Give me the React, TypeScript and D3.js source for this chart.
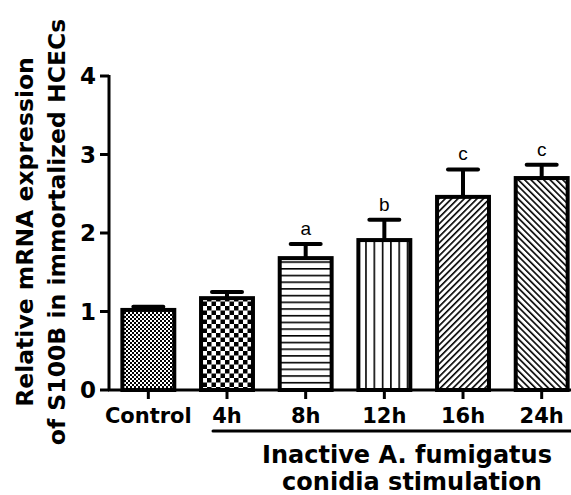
import React from "react";
import * as d3 from "d3";

const categories = ["Control", "4h", "8h", "12h", "16h", "24h"];
const means = [1.02, 1.17, 1.68, 1.91, 2.46, 2.70];
const errors = [0.04, 0.08, 0.18, 0.26, 0.35, 0.17];
const sigLabels = ["", "", "a", "b", "c", "c"];
const patterns = ["fineCheck", "bigCheck", "hLines", "vLines", "diagUp", "diagDown"];
const yTicks = [0, 1, 2, 3, 4];

const W = 571;
const H = 495;
const FONT = "'DejaVu Sans', Verdana, sans-serif";

export default function App() {
  const x = d3
    .scaleBand<string>()
    .domain(categories)
    .range([109, 109 + 78.67 * 6])
    .paddingInner(0.34)
    .paddingOuter(0.17);
  const y = d3.scaleLinear().domain([0, 4]).range([390, 76]);
  const bw = x.bandwidth();

  return (
    <svg
      width={W}
      height={H}
      style={{ position: "absolute", left: 0, top: 0, background: "#fff" }}
      fontFamily={FONT}
    >
      <defs>
        <pattern id="fineCheck" width={4} height={4} patternUnits="userSpaceOnUse">
          <rect width={4} height={4} fill="#fff" />
          <rect x={0} y={0} width={2} height={2} fill="#000" />
          <rect x={2} y={2} width={2} height={2} fill="#000" />
        </pattern>
        <pattern id="bigCheck" width={9} height={9} patternUnits="userSpaceOnUse">
          <rect width={9} height={9} fill="#fff" />
          <rect x={0} y={0} width={4.5} height={4.5} fill="#000" />
          <rect x={4.5} y={4.5} width={4.5} height={4.5} fill="#000" />
        </pattern>
        <pattern id="hLines" width={10} height={6.7} patternUnits="userSpaceOnUse">
          <rect width={10} height={6.7} fill="#fff" />
          <rect x={0} y={0} width={10} height={1.6} fill="#000" />
        </pattern>
        <pattern id="vLines" width={8.3} height={10} patternUnits="userSpaceOnUse">
          <rect width={8.3} height={10} fill="#fff" />
          <rect x={0} y={0} width={1.6} height={10} fill="#000" />
        </pattern>
        <pattern id="diagUp" width={4.5} height={4.5} patternUnits="userSpaceOnUse" patternTransform="rotate(45)">
          <rect width={4.5} height={4.5} fill="#fff" />
          <rect x={0} y={0} width={1.6} height={4.5} fill="#000" />
        </pattern>
        <pattern id="diagDown" width={4.5} height={4.5} patternUnits="userSpaceOnUse" patternTransform="rotate(-45)">
          <rect width={4.5} height={4.5} fill="#fff" />
          <rect x={0} y={0} width={1.6} height={4.5} fill="#000" />
        </pattern>
      </defs>

      {/* error bars */}
      {categories.map((c, i) => {
        const cx = (x(c) as number) + bw / 2;
        const top = y(means[i] + errors[i]);
        return (
          <g key={"e" + c} stroke="#000" strokeWidth={4}>
            <line x1={cx} x2={cx} y1={y(means[i])} y2={top} />
            <line x1={cx - 15} x2={cx + 15} y1={top} y2={top} strokeLinecap="round" />
          </g>
        );
      })}

      {/* bars */}
      {categories.map((c, i) => (
        <rect
          key={c}
          x={x(c)}
          y={y(means[i])}
          width={bw}
          height={y(0) - y(means[i])}
          fill={`url(#${patterns[i]})`}
          stroke="#000"
          strokeWidth={4}
        />
      ))}

      {/* significance letters */}
      {categories.map((c, i) =>
        sigLabels[i] ? (
          <text
            key={"s" + c}
            x={(x(c) as number) + bw / 2}
            y={y(means[i] + errors[i]) - 9}
            textAnchor="middle"
            fontFamily="'Liberation Sans', Arial, sans-serif"
            fontSize={19}
          >
            {sigLabels[i]}
          </text>
        ) : null
      )}

      {/* y axis */}
      <line x1={109} x2={109} y1={y(4) - 1} y2={y(0)} stroke="#000" strokeWidth={3} />
      {yTicks.map((t) => (
        <g key={"yt" + t}>
          <line x1={100} x2={109} y1={y(t)} y2={y(t)} stroke="#000" strokeWidth={3} />
          <text x={96} y={y(t)} dy="0.36em" textAnchor="end" fontSize={23} fontWeight="bold">
            {t}
          </text>
        </g>
      ))}

      {/* x axis */}
      <line x1={108} x2={W} y1={y(0)} y2={y(0)} stroke="#000" strokeWidth={3} />
      {categories.map((c) => {
        const cx = (x(c) as number) + bw / 2;
        return (
          <g key={"xt" + c}>
            <line x1={cx} x2={cx} y1={y(0)} y2={y(0) + 9} stroke="#000" strokeWidth={3} />
            <text x={cx} y={423} textAnchor="middle" fontSize={21} fontWeight="bold">
              {c}
            </text>
          </g>
        );
      })}

      {/* group bracket */}
      <line x1={213} x2={W} y1={431} y2={431} stroke="#000" strokeWidth={3} strokeLinecap="round" />
      <text x={407} y={463} textAnchor="middle" fontSize={24} fontWeight="bold">
        Inactive A. fumigatus
      </text>
      <text x={412} y={490} textAnchor="middle" fontSize={24} fontWeight="bold">
        conidia stimulation
      </text>

      {/* y title */}
      <g transform="translate(33,232) rotate(-90)">
        <text x={0} y={0} textAnchor="middle" fontSize={23.5} fontWeight="bold">
          Relative mRNA expression
        </text>
        <text x={0} y={32} textAnchor="middle" fontSize={23.5} fontWeight="bold">
          of S100B in immortalized HCECs
        </text>
      </g>
    </svg>
  );
}
